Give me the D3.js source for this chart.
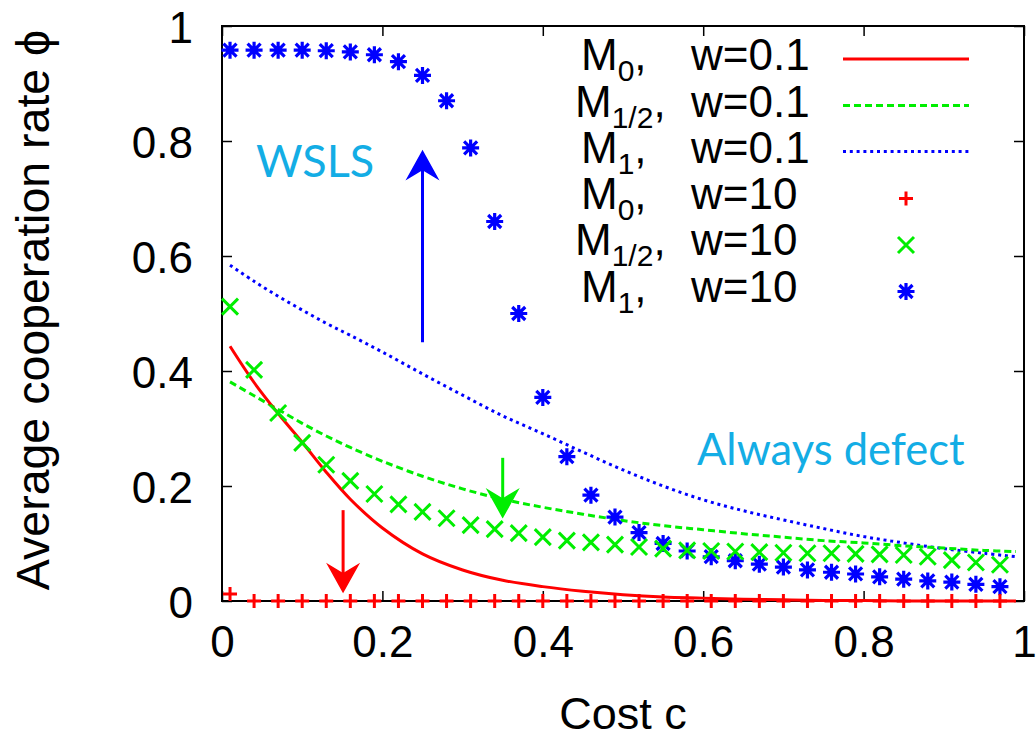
<!DOCTYPE html>
<html>
<head>
<meta charset="utf-8">
<script src="https://cdn.jsdelivr.net/npm/d3@7"></script>
<style>
  html, body { margin: 0; padding: 0; background: #fff; }
  svg { display: block; }
</style>
</head>
<body>
<svg id="chart" width="1036" height="738"></svg>
<script>
// ---------- data ----------
const xTicks = [0, 0.2, 0.4, 0.6, 0.8, 1];
const xTickLabels = ["0", "0.2", "0.4", "0.6", "0.8", "1"];
const yTicks = [0, 0.2, 0.4, 0.6, 0.8, 1];
const yTickLabels = ["0", "0.2", "0.4", "0.6", "0.8", "1"];

// w = 0.1 curves (sampled along c)
const costW01 = [0.01, 0.04, 0.07, 0.10, 0.13, 0.16, 0.20, 0.25, 0.30, 0.35, 0.40, 0.45,
                 0.50, 0.55, 0.60, 0.65, 0.70, 0.75, 0.80, 0.85, 0.90, 0.95, 0.99];
const m0W01 = [0.443, 0.380, 0.326, 0.276, 0.224, 0.177, 0.127, 0.082, 0.054, 0.036, 0.025, 0.017,
               0.011, 0.007, 0.005, 0.003, 0.002, 0.001, 0.001, 0.000, 0.000, 0.000, 0.000];
const mHalfW01 = [0.381, 0.357, 0.333, 0.309, 0.287, 0.267, 0.243, 0.217, 0.195, 0.177, 0.163, 0.151,
                  0.140, 0.131, 0.124, 0.117, 0.111, 0.105, 0.101, 0.096, 0.092, 0.088, 0.086];
const m1W01 = [0.584, 0.556, 0.530, 0.506, 0.483, 0.462, 0.433, 0.395, 0.358, 0.322, 0.291, 0.259,
               0.228, 0.200, 0.176, 0.157, 0.141, 0.126, 0.112, 0.101, 0.091, 0.083, 0.077];

// w = 10 points
const costW10 = [0.01, 0.04, 0.07, 0.10, 0.13, 0.16, 0.19, 0.22, 0.25, 0.28, 0.31, 0.34, 0.37,
                 0.40, 0.43, 0.46, 0.49, 0.52, 0.55, 0.58, 0.61, 0.64, 0.67, 0.70, 0.73, 0.76,
                 0.79, 0.82, 0.85, 0.88, 0.91, 0.94, 0.97];
const m0W10 = [0.012, 0, 0, 0, 0, 0, 0, 0, 0, 0, 0, 0, 0,
               0, 0, 0, 0, 0, 0, 0, 0, 0, 0, 0, 0, 0,
               0, 0, 0, 0, 0, 0, 0];
const mHalfW10 = [0.512, 0.402, 0.327, 0.275, 0.237, 0.209, 0.186, 0.168, 0.155, 0.144, 0.132, 0.125, 0.118,
                  0.111, 0.105, 0.102, 0.098, 0.094, 0.091, 0.088, 0.087, 0.086, 0.085, 0.084, 0.083, 0.083,
                  0.082, 0.081, 0.080, 0.077, 0.071, 0.067, 0.063];
const m1W10 = [0.958, 0.958, 0.958, 0.958, 0.957, 0.955, 0.950, 0.938, 0.914, 0.870, 0.788, 0.660, 0.500,
               0.354, 0.251, 0.184, 0.146, 0.119, 0.100, 0.087, 0.077, 0.070, 0.064, 0.059, 0.054, 0.050,
               0.047, 0.042, 0.038, 0.035, 0.033, 0.029, 0.025];

const legendMain = ["M", "M", "M", "M", "M", "M"];
const legendSub = ["0", "1/2", "1", "0", "1/2", "1"];
const legendW = ["w=0.1", "w=0.1", "w=0.1", "w=10", "w=10", "w=10"];

// annotation arrows: [c, from value, to value]
const arrowC = [0.25, 0.350, 0.151];
const arrowFrom = [0.450, 0.249, 0.158];
const arrowTo = [0.782, 0.146, 0.016];
const annotations = ["WSLS", "Always defect"];

// ---------- drawing ----------
const RED = "#ff0000", GREEN = "#00ee00", BLUE = "#0000ff", CYAN = "#13ade5";
const FONT = "'Liberation Sans', Arial, Helvetica, sans-serif";
const svg = d3.select("#chart");

const x = d3.scaleLinear().domain([0, 1]).range([222, 1024]);
const y = d3.scaleLinear().domain([0, 1]).range([601, 26]);

// axes (gnuplot-style inward ticks on all sides)
const axisStyle = g => {
  g.selectAll(".domain").remove();
  g.selectAll(".tick line").attr("stroke", "#000").attr("stroke-width", 1.5);
  g.selectAll("text").attr("font-family", FONT).attr("font-size", 44).attr("fill", "#000");
};
svg.append("g").attr("transform", `translate(0,${y(0)})`)
  .call(d3.axisBottom(x).tickValues(xTicks).tickFormat((d, i) => xTickLabels[i])
    .tickSizeInner(-10).tickSizeOuter(0).tickPadding(25))
  .call(axisStyle);
svg.append("g").attr("transform", `translate(0,${y(1)})`)
  .call(d3.axisTop(x).tickValues(xTicks).tickFormat("")
    .tickSizeInner(-10).tickSizeOuter(0))
  .call(axisStyle);
svg.append("g").attr("transform", `translate(${x(0)},0)`)
  .call(d3.axisLeft(y).tickValues(yTicks).tickFormat((d, i) => yTickLabels[i])
    .tickSizeInner(-10).tickSizeOuter(0).tickPadding(29))
  .call(axisStyle)
  .selectAll("text").attr("dy", "0.37em");
svg.append("g").attr("transform", `translate(${x(1)},0)`)
  .call(d3.axisRight(y).tickValues(yTicks).tickFormat("")
    .tickSizeInner(-10).tickSizeOuter(0))
  .call(axisStyle);

svg.append("rect")
  .attr("x", x(0)).attr("y", y(1))
  .attr("width", x(1) - x(0)).attr("height", y(0) - y(1))
  .attr("fill", "none").attr("stroke", "#000").attr("stroke-width", 2);

// axis titles
svg.append("text")
  .attr("x", 623).attr("y", 729)
  .attr("text-anchor", "middle")
  .attr("font-family", FONT).attr("font-size", 45)
  .text("Cost c");
svg.append("text")
  .attr("transform", "translate(49,310) rotate(-90)")
  .attr("text-anchor", "middle")
  .attr("font-family", FONT).attr("font-size", 46.5)
  .text("Average cooperation rate \u03d5");

// lines
const plot = svg.append("g");
const line = d3.line().x(d => x(d[0])).y(d => y(d[1])).curve(d3.curveCatmullRom.alpha(0.5));
const pairs = vals => costW01.map((c, i) => [c, vals[i]]);
plot.append("path").datum(pairs(m1W01)).attr("d", line)
  .attr("fill", "none").attr("stroke", BLUE).attr("stroke-width", 3)
  .attr("stroke-dasharray", "3,3.8");
plot.append("path").datum(pairs(mHalfW01)).attr("d", line)
  .attr("fill", "none").attr("stroke", GREEN).attr("stroke-width", 3)
  .attr("stroke-dasharray", "7,4");
plot.append("path").datum(pairs(m0W01)).attr("d", line)
  .attr("fill", "none").attr("stroke", RED).attr("stroke-width", 3);

// marker shapes
function plusPath(cx, cy, r) { return `M${cx - r},${cy}H${cx + r}M${cx},${cy - r}V${cy + r}`; }
function crossPath(cx, cy, r) { return `M${cx - r},${cy - r}L${cx + r},${cy + r}M${cx - r},${cy + r}L${cx + r},${cy - r}`; }
function starPath(cx, cy) { return plusPath(cx, cy, 8.5) + crossPath(cx, cy, 6.5); }

plot.append("g").selectAll("path").data(costW10.map((c, i) => [c, m1W10[i]])).join("path")
  .attr("d", d => starPath(x(d[0]), y(d[1])))
  .attr("stroke", BLUE).attr("stroke-width", 3.2).attr("fill", "none");
plot.append("g").selectAll("path").data(costW10.map((c, i) => [c, mHalfW10[i]])).join("path")
  .attr("d", d => crossPath(x(d[0]), y(d[1]), 8))
  .attr("stroke", GREEN).attr("stroke-width", 3).attr("fill", "none");
plot.append("g").selectAll("path").data(costW10.map((c, i) => [c, m0W10[i]])).join("path")
  .attr("d", d => plusPath(x(d[0]), y(d[1]), 7))
  .attr("stroke", RED).attr("stroke-width", 3).attr("fill", "none");

// arrows
const arrowColors = [BLUE, GREEN, RED];
arrowC.forEach((c, i) => {
  const ax = x(c), y0 = y(arrowFrom[i]), y1 = y(arrowTo[i]);
  const dir = y1 < y0 ? -1 : 1; // -1 up
  const headLen = 27, headW = 15, notch = 10;
  svg.append("line").attr("x1", ax).attr("x2", ax)
    .attr("y1", y0).attr("y2", y1 - dir * notch)
    .attr("stroke", arrowColors[i]).attr("stroke-width", 3);
  svg.append("path")
    .attr("d", `M${ax},${y1}L${ax - headW},${y1 - dir * headLen}L${ax},${y1 - dir * (headLen - 9)}L${ax + headW},${y1 - dir * headLen}Z`)
    .attr("fill", arrowColors[i]).attr("stroke", arrowColors[i]).attr("stroke-width", 1.5)
    .attr("stroke-linejoin", "miter");
});

// annotations
svg.append("text").attr("x", 256).attr("y", 177)
  .attr("font-family", "Lato, 'Open Sans', sans-serif").attr("font-size", 45)
  .attr("fill", CYAN).text(annotations[0]);
svg.append("text").attr("x", 697).attr("y", 465)
  .attr("font-family", "Lato, 'Open Sans', sans-serif").attr("font-size", 43.5)
  .attr("fill", CYAN).text(annotations[1]);

// legend
const legRowY = [70, 116.5, 162.5, 208.5, 255, 301.5];
const legMX = [581, 575, 581, 581, 575, 581];
const leg = svg.append("g").attr("font-family", FONT).attr("font-size", 44);
legendMain.forEach((m, i) => {
  const t = leg.append("text").attr("x", legMX[i]).attr("y", legRowY[i]);
  t.append("tspan").text(m);
  t.append("tspan").attr("font-size", 30).attr("dy", 11).text(legendSub[i]);
  t.append("tspan").attr("dy", -11).text(",");
  leg.append("text").attr("x", 691).attr("y", legRowY[i]).text(legendW[i]);
});
const sx0 = 843, sx1 = 969, mx = 906;
const legLine = (i, color, dash) => svg.append("line")
  .attr("x1", sx0).attr("x2", sx1).attr("y1", legRowY[i] - 11).attr("y2", legRowY[i] - 11)
  .attr("stroke", color).attr("stroke-width", 3).attr("stroke-dasharray", dash);
legLine(0, RED, null);
legLine(1, GREEN, "7,4");
legLine(2, BLUE, "3,3.8");
svg.append("path").attr("d", plusPath(mx, legRowY[3] - 10, 7)).attr("stroke", RED).attr("stroke-width", 3);
svg.append("path").attr("d", crossPath(mx, legRowY[4] - 10, 8)).attr("stroke", GREEN).attr("stroke-width", 3);
svg.append("path").attr("d", starPath(mx, legRowY[5] - 10)).attr("stroke", BLUE).attr("stroke-width", 3.2);
</script>
</body>
</html>
